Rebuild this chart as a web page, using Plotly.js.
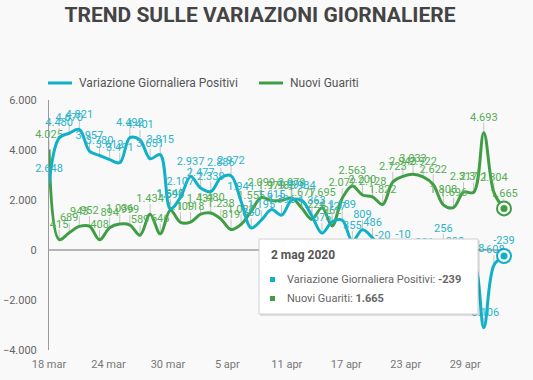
<!DOCTYPE html>
<html>
<head>
<meta charset="utf-8">
<script src="https://cdn.plot.ly/plotly-3.0.1.min.js"></script>
<style>
html,body{margin:0;padding:0;background:#f9f9f9;}
#chart{width:533px;height:380px;}
</style>
</head>
<body>
<div id="chart"></div>
<script>
// ---- data ----
const dates = [
  "2020-03-18","2020-03-19","2020-03-20","2020-03-21","2020-03-22","2020-03-23","2020-03-24",
  "2020-03-25","2020-03-26","2020-03-27","2020-03-28","2020-03-29","2020-03-30","2020-03-31",
  "2020-04-01","2020-04-02","2020-04-03","2020-04-04","2020-04-05","2020-04-06","2020-04-07",
  "2020-04-08","2020-04-09","2020-04-10","2020-04-11","2020-04-12","2020-04-13","2020-04-14",
  "2020-04-15","2020-04-16","2020-04-17","2020-04-18","2020-04-19","2020-04-20","2020-04-21",
  "2020-04-22","2020-04-23","2020-04-24","2020-04-25","2020-04-26","2020-04-27","2020-04-28",
  "2020-04-29","2020-04-30","2020-05-01","2020-05-02"
];
const variazionePositivi = [
  2648, 4480, 4670, 4821, 3957, 3780, 3612, 3491, 4492, 4401, 3651, 3815, 1648, 2107,
  2937, 2477, 2339, 2886, 2972, 1941, 880, 1195, 1615, 1396, 1996, 1984, 1363, 675,
  1127, 1189, 355, 809, 486, -20, -528, -10, -851, -321, -680, 256, -290, -608,
  -548, -3106, -608, -239
];
const nuoviGuariti = [
  4025, 415, 689, 943, 952, 408, 894, 1036, 999, 589, 1434, 646, 1590, 1109,
  1118, 1431, 1480, 1238, 819, 1022, 1555, 2099, 1979, 1985, 2079, 1677, 1224, 1695,
  962, 2072, 2563, 2200, 2128, 1822, 2723, 2943, 3033, 2922, 2622, 1808, 1696, 2317,
  2311, 4693, 2304, 1665
];
const tickDates = ["2020-03-18","2020-03-24","2020-03-30","2020-04-05","2020-04-11","2020-04-17","2020-04-23","2020-04-29"];
const tickLabels = ["18 mar","24 mar","30 mar","5 apr","11 apr","17 apr","23 apr","29 apr"];
const seriesNames = ["Variazione Giornaliera Positivi", "Nuovi Guariti"];
const tooltipDate = "2 mag 2020";

// ---- style ----
const CYAN = "#0fb0c8", CYAN_T = "#2ab4cb";
const GREEN = "#3f9e45", GREEN_T = "#55ad55";
const BG = "#f9f9f9";
const FONT = "Roboto, 'Open Sans', sans-serif";

// plot area in pixels
const PL = 49, PR = 504, PT = 100, PB = 350;
const px = x => (x - PL) / (PR - PL);
const py = y => (PB - y) / (PB - PT);

// tick positions slightly compressed like the reference
const t0 = new Date(dates[0] + "T00:00:00Z").getTime();
const DAY = 86400000;
const tickvals = tickDates.map(d => {
  const t = new Date(d + "T00:00:00Z").getTime();
  const i = (t - t0) / DAY;
  const shifted = t0 + i * 0.98 * DAY;
  return new Date(shifted).toISOString().replace("T", " ").slice(0, 19);
});

function seriesTrace(y, name, color, textColor) {
  return {
    type: "scatter",
    x: dates, y: y, name: name,
    mode: "lines+markers+text",
    line: {color: color, width: 3, shape: "spline", smoothing: 1},
    marker: {size: 13, opacity: 0, color: color},
    texttemplate: "%{y:,}",
    textposition: "top center",
    textfont: {family: FONT, size: 11, color: textColor},
    error_y: {type: "constant", symmetric: false, value: 400, valueminus: 0,
              width: 0, thickness: 1, color: "#c4c4c4"},
    cliponaxis: false,
    hoverinfo: "skip",
    showlegend: false
  };
}
function lastMarker(y, color) {
  const n = y.length - 1;
  return [{
    type: "scatter", x: [dates[n]], y: [y[n]], mode: "markers",
    marker: {size: 14, color: BG, line: {color: color, width: 2}},
    cliponaxis: false, hoverinfo: "skip", showlegend: false
  }, {
    type: "scatter", x: [dates[n]], y: [y[n]], mode: "markers",
    marker: {size: 7, color: color},
    cliponaxis: false, hoverinfo: "skip", showlegend: false
  }];
}

const data = [
  seriesTrace(nuoviGuariti, seriesNames[1], GREEN, GREEN_T),
  seriesTrace(variazionePositivi, seriesNames[0], CYAN, CYAN_T),
  ...lastMarker(nuoviGuariti, GREEN),
  ...lastMarker(variazionePositivi, CYAN)
];

const fmt = v => v.toLocaleString("it-IT");
const lastV = variazionePositivi[variazionePositivi.length - 1];
const lastG = nuoviGuariti[nuoviGuariti.length - 1];

const shapes = [
  // legend lines
  {type: "line", xref: "paper", yref: "paper", x0: px(48), x1: px(72), y0: py(83), y1: py(83),
   line: {color: CYAN, width: 3}},
  {type: "line", xref: "paper", yref: "paper", x0: px(259), x1: px(283), y0: py(83), y1: py(83),
   line: {color: GREEN, width: 3}},
  // tooltip shadow + box
  {type: "rect", xref: "paper", yref: "paper", x0: px(260), x1: px(480), y0: py(316), y1: py(240),
   fillcolor: "rgba(0,0,0,0.10)", line: {width: 0}},
  {type: "rect", xref: "paper", yref: "paper", x0: px(259), x1: px(478), y0: py(314), y1: py(239),
   fillcolor: "#ffffff", line: {color: "#d0d0d0", width: 1}},
  // bullets
  {type: "rect", xref: "paper", yref: "paper", x0: px(270), x1: px(275), y0: py(282), y1: py(277),
   fillcolor: CYAN, line: {width: 0}},
  {type: "rect", xref: "paper", yref: "paper", x0: px(270), x1: px(275), y0: py(301), y1: py(296),
   fillcolor: GREEN, line: {width: 0}}
];

const annotations = [
  {xref: "paper", yref: "paper", x: px(77), y: py(83), xanchor: "left", yanchor: "middle",
   text: seriesNames[0], showarrow: false, font: {family: FONT, size: 12, color: "#555"}},
  {xref: "paper", yref: "paper", x: px(288), y: py(83), xanchor: "left", yanchor: "middle",
   text: seriesNames[1], showarrow: false, font: {family: FONT, size: 12, color: "#555"}},
  {xref: "paper", yref: "paper", x: px(269), y: py(255), xanchor: "left", yanchor: "middle",
   text: "<b>" + tooltipDate + "</b>", showarrow: false, font: {family: FONT, size: 12, color: "#555"}},
  {xref: "paper", yref: "paper", x: px(285), y: py(279.5), xanchor: "left", yanchor: "middle",
   text: seriesNames[0] + ": <b>" + fmt(lastV) + "</b>", showarrow: false,
   font: {family: FONT, size: 11, color: "#666"}},
  {xref: "paper", yref: "paper", x: px(285), y: py(298.5), xanchor: "left", yanchor: "middle",
   text: seriesNames[1] + ": <b>" + fmt(lastG) + "</b>", showarrow: false,
   font: {family: FONT, size: 11, color: "#666"}}
];

const layout = {
  width: 533, height: 380,
  margin: {l: PL, r: 533 - PR, t: PT, b: 380 - PB, pad: 0},
  paper_bgcolor: BG, plot_bgcolor: BG,
  separators: ",.",
  font: {family: FONT, color: "#666"},
  title: {text: "<b>TREND SULLE VARIAZIONI GIORNALIERE</b>", xref: "container", x: 260 / 533,
          xanchor: "center", yref: "container", y: 1 - 15 / 380, yanchor: "middle",
          font: {family: FONT, size: 21, color: "#444"}},
  showlegend: false,
  hovermode: false,
  xaxis: {
    type: "date", range: [dates[0], dates[dates.length - 1]],
    tickvals: tickvals, ticktext: tickLabels,
    showgrid: false, zeroline: false, showline: false, ticks: "",
    tickfont: {family: FONT, size: 11, color: "#777"},
    ticklabelstandoff: 6, fixedrange: true
  },
  yaxis: {
    range: [-4000, 6000],
    tickvals: [-4000, -2000, 0, 2000, 4000, 6000],
    tickformat: ",d",
    showgrid: false, zeroline: true, zerolinecolor: "#b5b5b5", zerolinewidth: 2,
    showline: true, linecolor: "#9a9a9a", linewidth: 1, ticks: "",
    tickfont: {family: FONT, size: 11, color: "#666"},
    ticklabelstandoff: 9, fixedrange: true
  },
  shapes: shapes,
  annotations: annotations
};

Plotly.newPlot("chart", data, layout, {displayModeBar: false, staticPlot: true});
</script>
</body>
</html>
